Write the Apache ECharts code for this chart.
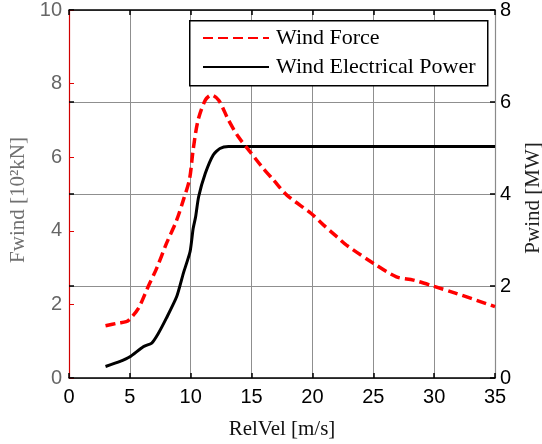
<!DOCTYPE html>
<html>
<head>
<meta charset="utf-8">
<script src="https://cdn.jsdelivr.net/npm/echarts@6/dist/echarts.min.js"></script>
<style>
html,body{margin:0;padding:0;background:#fff;}
#c{width:542px;height:444px;}
</style>
</head>
<body>
<div id="c"></div>
<script>
// Wind Force [10^2 kN] vs RelVel [m/s]
const forceX = [3.0, 4.0, 4.7, 5.0, 5.7, 6.5, 7.2, 8.0, 8.8, 9.4, 9.9, 10.2, 10.6, 11.2, 11.7, 12.3, 13.1, 13.9, 14.8, 15.8, 16.8, 17.9, 19.9, 20.9, 22.0, 22.8, 25.0, 26.9, 28.3, 30.0, 31.8, 35.0];
const forceY = [1.42, 1.49, 1.53, 1.60, 1.89, 2.48, 2.98, 3.65, 4.25, 4.84, 5.40, 6.20, 7.00, 7.55, 7.69, 7.55, 7.01, 6.56, 6.18, 5.76, 5.38, 4.97, 4.47, 4.16, 3.84, 3.61, 3.12, 2.75, 2.66, 2.49, 2.30, 1.94];
// Wind Electrical Power [MW] vs RelVel [m/s]
const powerX = [3.0, 4.2, 5.0, 6.1, 6.8, 7.3, 8.0, 8.85, 9.4, 9.95, 10.2, 10.4, 10.65, 11.2, 11.85, 12.4, 13.1, 35.0];
const powerY = [0.25, 0.36, 0.46, 0.68, 0.76, 0.95, 1.30, 1.77, 2.28, 2.75, 3.25, 3.50, 3.94, 4.45, 4.85, 4.99, 5.03, 5.03];
const seriesNames = ['Wind Force', 'Wind Electrical Power'];
const xName = 'RelVel [m/s]';
const yLeftName = 'Fwind [10\u00B2kN]';
const yRightName = 'Pwind [MW]';

const pairs = (xs, ys) => xs.map((x, i) => [x, ys[i]]);
const chart = echarts.init(document.getElementById('c'), null, {renderer: 'canvas'});
const tickFont = {fontFamily: 'Liberation Sans', fontSize: 20};
const gridColor = '#8f8f8f';

chart.setOption({
  animation: false,
  backgroundColor: '#fff',
  grid: {left: 69, right: 47, top: 10, bottom: 66, outerBoundsMode: 'none', containLabel: false},
  graphic: [{
    type: 'rect', left: 189, top: 20, z: 100,
    shape: {width: 298, height: 65},
    style: {fill: '#fff', stroke: '#000', lineWidth: 1.5}
  }],
  legend: {
    left: 189, top: 20, orient: 'vertical', z: 110,
    padding: [7, 10, 8, 13], itemGap: 7,
    itemWidth: 66, itemHeight: 14,
    itemStyle: {opacity: 0},
    textStyle: {fontFamily: 'Liberation Serif', fontSize: 22, color: '#000', padding: [0, 0, 0, 2]},
    data: seriesNames
  },
  xAxis: [{
    type: 'value', position: 'bottom', min: 0, max: 35, interval: 5,
    axisLine: {onZero: false, lineStyle: {color: '#000', width: 1.5}},
    axisTick: {inside: true, length: 5, lineStyle: {color: '#000', width: 1.5}},
    axisLabel: Object.assign({color: '#000', margin: 9}, tickFont),
    splitLine: {show: true, lineStyle: {color: gridColor, width: 1}},
    name: xName, nameLocation: 'middle', nameGap: 41,
    nameTextStyle: {fontFamily: 'Liberation Serif', fontSize: 21, color: '#111'}
  }, {
    type: 'value', position: 'top', min: 0, max: 35, interval: 5,
    axisLine: {onZero: false, lineStyle: {color: '#000', width: 1.5}},
    axisTick: {inside: true, length: 5, lineStyle: {color: '#000', width: 1.5}},
    axisLabel: {show: false}, splitLine: {show: false}
  }],
  yAxis: [{
    type: 'value', position: 'left', min: 0, max: 10, interval: 2,
    axisLine: {show: true, onZero: false, lineStyle: {color: '#d00000', width: 1.2}},
    axisTick: {show: true, inside: true, length: 5, lineStyle: {color: '#e00000', width: 1}},
    axisLabel: Object.assign({color: '#666', margin: 7}, tickFont),
    splitLine: {show: false},
    name: yLeftName, nameLocation: 'middle', nameGap: 40,
    nameTextStyle: {fontFamily: 'Liberation Serif', fontSize: 21, color: '#707070', padding: [0, 12, 0, 0]}
  }, {
    type: 'value', position: 'right', min: 0, max: 8, interval: 2,
    axisLine: {show: true, onZero: false, lineStyle: {color: '#8a8a8a', width: 1.2}},
    axisTick: {show: true, inside: true, length: 5, lineStyle: {color: '#000', width: 1.5}},
    axisLabel: Object.assign({color: '#000', margin: 5}, tickFont),
    splitLine: {show: true, lineStyle: {color: gridColor, width: 1}},
    name: yRightName, nameLocation: 'middle', nameGap: 28, nameRotate: 90,
    nameTextStyle: {fontFamily: 'Liberation Serif', fontSize: 21, color: '#222', padding: [0, 8, 0, 0]}
  }, {
    type: 'value', position: 'left', min: 0, max: 8, interval: 2,
    axisLine: {show: false},
    axisTick: {show: true, inside: true, length: 5, lineStyle: {color: '#000', width: 1.5}},
    axisLabel: {show: false}, splitLine: {show: false}
  }],
  series: [{
    name: seriesNames[0], type: 'line', xAxisIndex: 0, yAxisIndex: 0,
    data: pairs(forceX, forceY), showSymbol: false, symbol: 'none', smooth: 0.3,
    lineStyle: {color: '#ff0000', width: 3.5, type: [10, 5]},
    itemStyle: {color: '#ff0000'}, z: 5
  }, {
    name: seriesNames[1], type: 'line', xAxisIndex: 0, yAxisIndex: 1,
    data: pairs(powerX, powerY), showSymbol: false, symbol: 'none', smooth: 0.2,
    lineStyle: {color: '#000', width: 3},
    itemStyle: {color: '#000'}, z: 4
  }]
});
</script>
</body>
</html>
